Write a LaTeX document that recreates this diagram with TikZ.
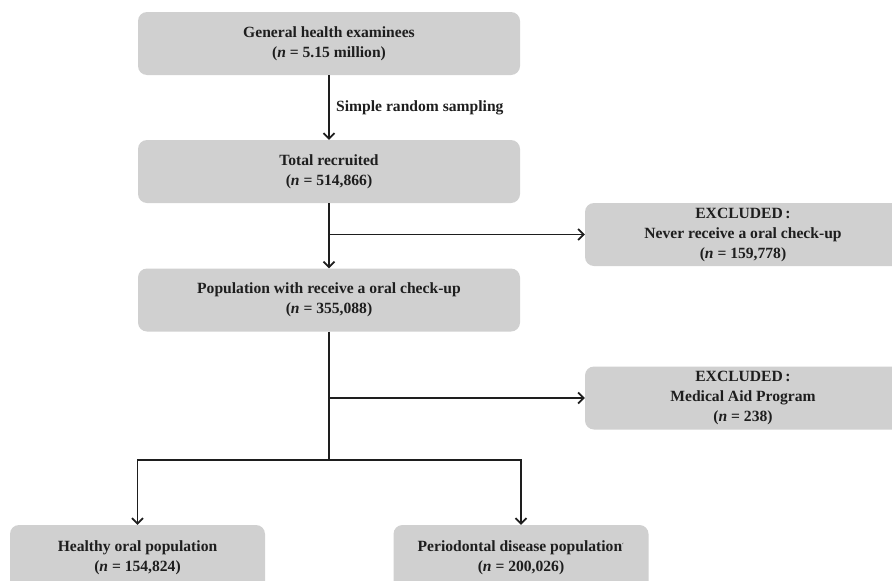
\documentclass[tikz,border=0pt]{standalone}
\usepackage{fontspec}
\setmainfont{Liberation Serif}
\usetikzlibrary{arrows.meta,positioning,calc}
\definecolor{boxgrey}{HTML}{D0D0D0}
\definecolor{inkc}{HTML}{1E1E1E}
\tikzset{
  box/.style={fill=boxgrey, draw=none, rounded corners=9pt, align=center,
    font=\fontsize{15.6}{20}\selectfont\bfseries, text=inkc, inner sep=0pt},
  mainbox/.style={box, minimum width=382pt, minimum height=63pt},
  exbox/.style={box, minimum width=316pt, minimum height=63pt},
  endbox/.style={box, minimum width=255pt, minimum height=65pt},
  conn/.style={draw=inkc, line width=1.8pt},
  arr/.style={conn, -{Straight Barb[length=5.5pt,width=11pt,line width=1.8pt]}},
  lbl/.style={font=\fontsize{15.6}{20}\selectfont\bfseries, text=inkc, inner sep=0pt, anchor=west}
}
\begin{document}
\begin{tikzpicture}[x=1pt,y=-1pt]
\useasboundingbox (0,0) rectangle (892,581);
\node[mainbox] (b1) at (329,43.5) {General health examinees\\(\textit{n} = 5.15 million)};
\node[mainbox] (b2) at (329,171.5) {Total recruited\\(\textit{n} = 514,866)};
\node[mainbox] (b3) at (329,300) {Population with receive a oral check-up\\(\textit{n} = 355,088)};
\node[exbox] (e1) at (743,234.5) {EXCLUDED\,:\\Never receive a oral check-up\\(\textit{n} = 159,778)};
\node[exbox] (e2) at (743,398) {EXCLUDED\,:\\Medical Aid Program\\(\textit{n} = 238)};
\node[endbox] (h) at (137.5,557.5) {Healthy oral population\\(\textit{n} = 154,824)};
\node[endbox] (p) at (521,557.5) {Periodontal disease population\textsuperscript{\tiny\textquoteleft}\\(\textit{n} = 200,026)};
\node[lbl] (s) at (336,108) {Simple random sampling};
\coordinate (j1) at (b2.south |- e1.west);
\coordinate (j2) at (b3.south |- e2.west);
\coordinate (j3) at (329,460);
\draw[arr] (b1.south) -- (b2.north);
\draw[arr] (b2.south) -- (b3.north);
\draw[arr] (j1) -- (e1.west);
\draw[conn] (b3.south) -- (j3);
\draw[arr] (j2) -- (e2.west);
\draw[arr] (j3) -| (h.north);
\draw[arr] (j3) -| (p.north);
\end{tikzpicture}
\end{document}
